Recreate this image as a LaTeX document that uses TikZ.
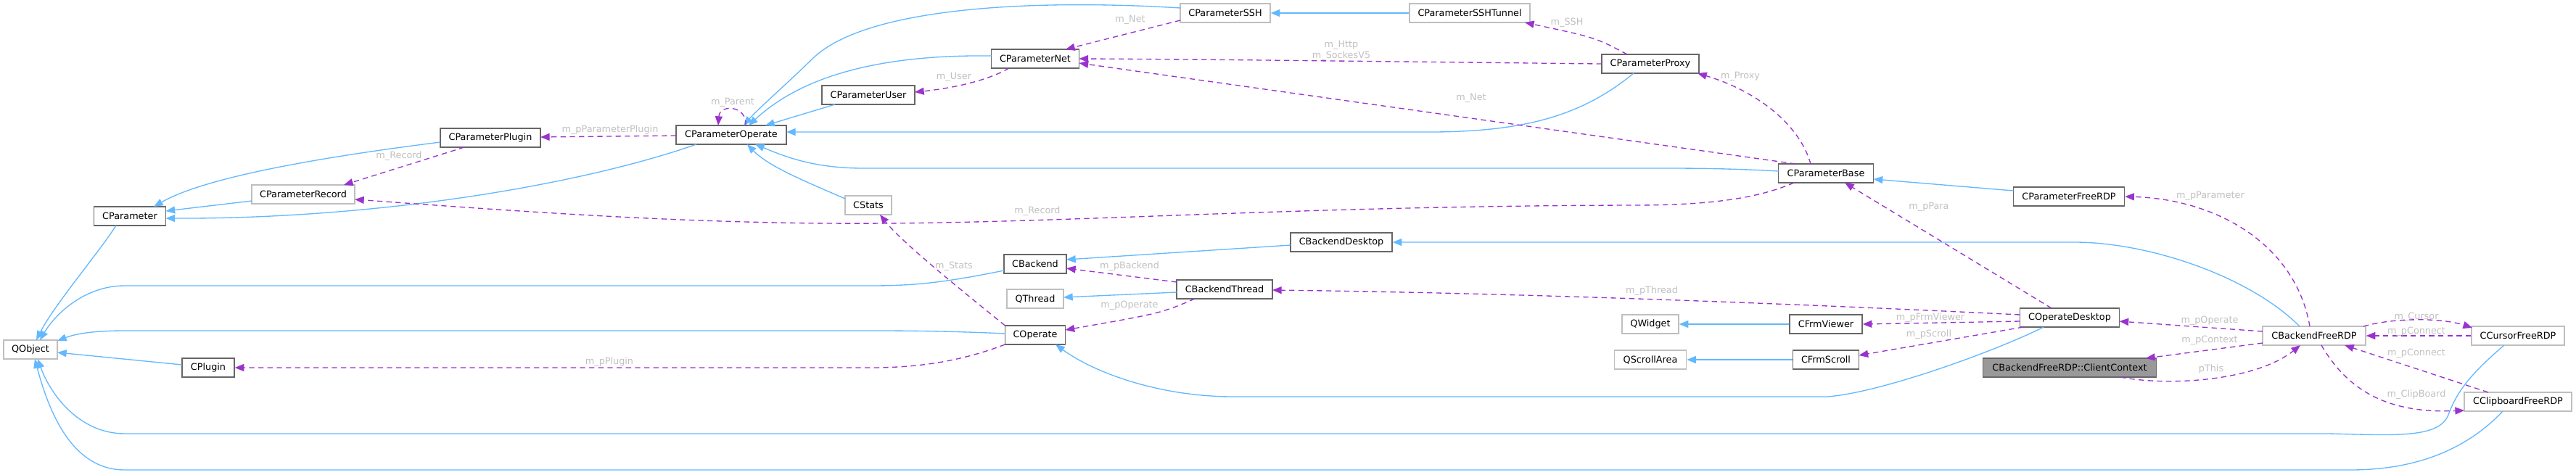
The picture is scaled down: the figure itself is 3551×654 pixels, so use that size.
\documentclass[tikz,border=0pt]{standalone}
\usepackage{fontspec}
\setmainfont{DejaVu Sans}
\usetikzlibrary{arrows.meta,calc}
\definecolor{inhblue}{HTML}{63B8FF}
\definecolor{usepurple}{HTML}{9A32CD}
\definecolor{lblgrey}{HTML}{C0C0C0}
\definecolor{darkborder}{HTML}{666666}
\definecolor{lightborder}{HTML}{BFBFBF}
\definecolor{focusfill}{HTML}{999999}
\begin{document}
\begin{tikzpicture}[x=0.75pt,y=-0.75pt,
  bw/.style={minimum width=#1*0.75pt},
  cls/.style={draw=darkborder, line width=1pt, fill=white, minimum height=19.5pt, inner sep=0pt, font=\fontsize{9.6}{11}\selectfont, text=black},
  ext/.style={cls, draw=lightborder},
  focus/.style={cls, fill=focusfill},
  inh/.style={draw=inhblue, line width=1pt, -{Triangle[length=9.5pt,width=7.5pt]}},
  use/.style={draw=usepurple, line width=1pt, dash pattern=on 5.5pt off 4pt, -{Triangle[length=9.5pt,width=7.5pt]}},
  lbl/.style={text=lblgrey, font=\fontsize{9.6}{11}\selectfont, inner sep=0pt, align=center}
]
\useasboundingbox (0,0) rectangle (3551,654);

% nodes
\node[ext,bw=74] (QObject) at (42,482) {QObject};
\node[cls,bw=99] (CParameter) at (179,298) {CParameter};
\node[ext,bw=142] (CParameterRecord) at (418,268) {CParameterRecord};
\node[cls,bw=138] (CParameterPlugin) at (676,190) {CParameterPlugin};
\node[cls,bw=72] (CPlugin) at (287,507) {CPlugin};
\node[cls,bw=152] (CParameterOperate) at (1008,186) {CParameterOperate};
\node[cls,bw=128] (CParameterUser) at (1197,131) {CParameterUser};
\node[cls,bw=121] (CParameterNet) at (1427,81) {CParameterNet};
\node[ext,bw=64] (CStats) at (1197,283) {CStats};
\node[cls,bw=86] (CBackend) at (1427,364) {CBackend};
\node[ext,bw=78] (QThread) at (1427,412) {QThread};
\node[cls,bw=83] (COperate) at (1427,462) {COperate};
\node[ext,bw=124] (CParameterSSH) at (1689,18) {CParameterSSH};
\node[ext,bw=166] (CParameterSSHTunnel) at (2026,18) {CParameterSSHTunnel};
\node[cls,bw=132] (CBackendThread) at (1688,399) {CBackendThread};
\node[cls,bw=140] (CBackendDesktop) at (1849,334) {CBackendDesktop};
\node[cls,bw=134] (CParameterProxy) at (2275,88) {CParameterProxy};
\node[ext,bw=78] (QWidget) at (2275,447) {QWidget};
\node[ext,bw=99] (QScrollArea) at (2275,496) {QScrollArea};
\node[cls,bw=131] (CParameterBase) at (2517,239) {CParameterBase};
\node[cls,bw=100] (CFrmViewer) at (2517,447) {CFrmViewer};
\node[cls,bw=91] (CFrmScroll) at (2517,496) {CFrmScroll};
\node[cls,bw=153] (CParameterFreeRDP) at (2852,271) {CParameterFreeRDP};
\node[cls,bw=137] (COperateDesktop) at (2853,438) {COperateDesktop};
\node[focus,bw=239] (ClientContext) at (2853,507) {CBackendFreeRDP::ClientContext};
\node[ext,bw=142] (CBackendFreeRDP) at (3190,463) {CBackendFreeRDP};
\node[ext,bw=128] (CCursorFreeRDP) at (3471,463) {CCursorFreeRDP};
\node[ext,bw=148] (CClipboardFreeRDP) at (3471,554) {CClipboardFreeRDP};

% inheritance
\draw[inh] ($(CParameter)+(-19,13)$) .. controls (135,350) and (75,420) .. ($(QObject)+(8,-13)$);
\draw[inh] ($(CParameterPlugin)+(-69,6)$) .. controls (480,212) and (290,240) .. ($(CParameter)+(33,-13)$);
\draw[inh] ($(CParameterRecord)+(-71,9)$) -- ($(CParameter)+(49.5,-7)$);
\draw[inh] ($(CParameterOperate)+(-48,13)$) .. controls (800,255) and (520,302) .. ($(CParameter)+(49.5,3)$);
\draw[inh] ($(CPlugin)+(-36,-4)$) -- ($(QObject)+(37,4)$);
\draw[inh] ($(CBackend)+(-43,9)$) .. controls (1300,390) and (1260,394) .. (1200,394) -- (172,394) .. controls (115,394) and (75,435) .. ($(QObject)+(13,-13)$);
\draw[inh] ($(COperate)+(-41.5,-2)$) .. controls (1320,457) and (1260,456) .. (1210,456) -- (172,456) .. controls (130,456) and (105,460) .. ($(QObject)+(37,-12)$);
\draw[inh] ($(CCursorFreeRDP)+(-19,13)$) .. controls (3400,520) and (3385,545) .. (3375,572) .. controls (3362,605) and (3300,600) .. (3210,598) -- (172,598) .. controls (110,598) and (70,545) .. ($(QObject)+(10,13)$);
\draw[inh] ($(CClipboardFreeRDP)+(-21,13)$) .. controls (3400,620) and (3330,648) .. (3240,648) -- (172,648) .. controls (100,648) and (68,570) .. ($(QObject)+(6,13)$);
\draw[inh] ($(CParameterSSH)+(-62,-7)$) .. controls (1450,0) and (1200,5) .. (1121,80) .. controls (1080,120) and (1045,150) .. ($(CParameterOperate)+(17,-13)$);
\draw[inh] ($(CParameterNet)+(-60.5,-4)$) .. controls (1200,75) and (1100,110) .. ($(CParameterOperate)+(24,-13)$);
\draw[inh] ($(CParameterUser)+(-46,13)$) -- ($(CParameterOperate)+(47,-13)$);
\draw[inh] ($(CParameterProxy)+(-23,13)$) .. controls (2180,160) and (2100,183) .. (1960,182) -- ($(CParameterOperate)+(76,-4)$);
\draw[inh] ($(CParameterBase)+(-65.5,-3)$) .. controls (2400,233) and (2350,232) .. (2300,232) -- (1190,232) .. controls (1120,232) and (1080,215) .. ($(CParameterOperate)+(33,13)$);
\draw[inh] ($(CStats)+(-32,-9)$) .. controls (1110,250) and (1060,230) .. ($(CParameterOperate)+(22,13)$);
\draw[inh] (CParameterSSHTunnel.west) -- (CParameterSSH.east);
\draw[inh] ($(CParameterFreeRDP)+(-76.5,-8)$) -- ($(CParameterBase)+(65.5,8)$);
\draw[inh] ($(CBackendDesktop)+(-70,4)$) -- ($(CBackend)+(43,-6)$);
\draw[inh] ($(CBackendThread)+(-66,4)$) -- ($(QThread)+(39,-2)$);
\draw[inh] ($(CBackendFreeRDP)+(-20,-13)$) .. controls (3100,380) and (2960,334) .. (2860,334) -- (CBackendDesktop.east);
\draw[inh] ($(COperateDesktop)+(-36,13)$) .. controls (2760,480) and (2600,540) .. (2520,547) -- (1700,547) .. controls (1600,547) and (1510,515) .. ($(COperate)+(28,13)$);
\draw[inh] (CFrmViewer.west) -- (QWidget.east);
\draw[inh] (CFrmScroll.west) -- (QScrollArea.east);

% usage
\draw[use] ($(CParameterPlugin)+(-36,13)$) -- ($(CParameterRecord)+(56,-13)$);
\draw[use] ($(CParameterOperate)+(-76,1)$) -- ($(CParameterPlugin)+(69,-1)$);
\draw[use] ($(CParameterOperate)+(20,-13)$) .. controls (1030,145) and (992,143) .. ($(CParameterOperate)+(-18,-13)$);
\draw[use] ($(CParameterSSH)+(-62,10)$) -- ($(CParameterNet)+(42,-13)$);
\draw[use] ($(CParameterNet)+(-36,13)$) .. controls (1360,112) and (1310,122) .. ($(CParameterUser)+(64,-4)$);
\draw[use] ($(CParameterProxy)+(-67,0)$) .. controls (2000,86) and (1700,82) .. ($(CParameterNet)+(60.5,0)$);
\draw[use] ($(CParameterBase)+(-42,-13)$) -- ($(CParameterNet)+(60.5,6)$);
\draw[use] ($(CParameterProxy)+(-32,-13)$) .. controls (2200,52) .. ($(CParameterSSHTunnel)+(76,13)$);
\draw[use] ($(CParameterBase)+(-21,-13)$) .. controls (2480,170) and (2420,125) .. ($(CParameterProxy)+(65,13)$);
\draw[use] ($(CParameterBase)+(-44,13)$) .. controls (2420,275) and (2350,283) .. (2250,283) .. controls (1800,284) and (1500,306) .. (1219,308) .. controls (950,310) and (700,290) .. ($(CParameterRecord)+(71,7)$);
\draw[use] ($(COperate)+(-41.5,-13)$) .. controls (1300,380) and (1240,330) .. ($(CStats)+(16,13)$);
\draw[use] ($(CBackendThread)+(-66,-10)$) -- ($(CBackend)+(43,6)$);
\draw[use] ($(CBackendThread)+(-41,13)$) .. controls (1600,432) .. ($(COperate)+(41.5,-7)$);
\draw[use] ($(COperate)+(-41.5,13)$) .. controls (1320,500) and (1260,507) .. (1200,507) -- (CPlugin.east);
\draw[use] ($(COperateDesktop)+(-68.5,-4)$) .. controls (2500,420) and (2100,404) .. ($(CBackendThread)+(66,1)$);
\draw[use] ($(COperateDesktop)+(-25,-13)$) -- ($(CParameterBase)+(26,13)$);
\draw[use] ($(COperateDesktop)+(-68.5,5)$) -- (CFrmViewer.east);
\draw[use] ($(COperateDesktop)+(-64,13)$) -- ($(CFrmScroll)+(45.5,-6)$);
\draw[use] ($(CBackendFreeRDP)+(-71,-6)$) -- ($(COperateDesktop)+(68.5,5)$);
\draw[use] ($(CBackendFreeRDP)+(-71,10)$) -- ($(ClientContext)+(105,-13)$);
\draw[use] ($(ClientContext)+(70,13)$) .. controls (2990,533) and (3110,525) .. ($(CBackendFreeRDP)+(-19,13)$);
\draw[use] ($(CBackendFreeRDP)+(-6,-13)$) .. controls (3165,340) and (3060,275) .. (CParameterFreeRDP.east);
\draw[use] ($(CBackendFreeRDP)+(68,-13)$) .. controls (3300,438) and (3365,438) .. ($(CCursorFreeRDP)+(-63,-11)$);
\draw[use] (CCursorFreeRDP.west) -- (CBackendFreeRDP.east);
\draw[use] ($(CClipboardFreeRDP)+(-41,-13)$) -- ($(CBackendFreeRDP)+(42,13)$);
\draw[use] ($(CBackendFreeRDP)+(10,13)$) .. controls (3240,545) and (3300,570) .. ($(CClipboardFreeRDP)+(-74,12)$);

% labels
\node[lbl] (lRecA) at (550,215) {m\_Record};
\node[lbl] (lPP) at (841,179) {m\_pParameterPlugin};
\node[lbl] (lParent) at (1010,141) {m\_Parent};
\node[lbl] (lNetA) at (1558,27) {m\_Net};
\node[lbl] (lUser) at (1315,106) {m\_User};
\node[lbl] (lHttp) at (1849,70) {m\_Http\\m\_SockesV5};
\node[lbl] (lNetB) at (2028,135) {m\_Net};
\node[lbl] (lSSH) at (2160,31) {m\_SSH};
\node[lbl] (lProxy) at (2399,105) {m\_Proxy};
\node[lbl] (lRecB) at (1430,291) {m\_Record};
\node[lbl] (lStats) at (1315,367) {m\_Stats};
\node[lbl] (lBackend) at (1557,367) {m\_pBackend};
\node[lbl] (lOpA) at (1557,421) {m\_pOperate};
\node[lbl] (lPlugin) at (840,499) {m\_pPlugin};
\node[lbl] (lThread) at (2277,401) {m\_pThread};
\node[lbl] (lPara) at (2659,285) {m\_pPara};
\node[lbl] (lViewer) at (2661,438) {m\_pFrmViewer};
\node[lbl] (lScroll) at (2659,461) {m\_pScroll};
\node[lbl] (lOpB) at (3046,442) {m\_pOperate};
\node[lbl] (lContext) at (3046,469) {m\_pContext};
\node[lbl] (lThis) at (3048,509) {pThis};
\node[lbl] (lParam) at (3047,270) {m\_pParameter};
\node[lbl] (lCursor) at (3331,437) {m\_Cursor};
\node[lbl] (lConnA) at (3331,457) {m\_pConnect};
\node[lbl] (lConnB) at (3331,487) {m\_pConnect};
\node[lbl] (lClip) at (3331,544) {m\_ClipBoard};
\end{tikzpicture}
\end{document}
